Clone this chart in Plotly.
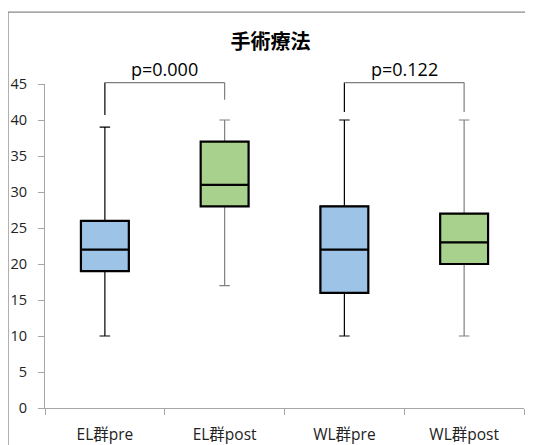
import plotly.graph_objects as go

# ---- data ----
categories = ["EL群pre", "EL群post", "WL群pre", "WL群post"]
q1 = [19, 28, 16, 20]
median = [22, 31, 22, 23]
q3 = [26, 37, 28, 27]
lower = [10, 17, 10, 10]
upper = [39, 40, 40, 40]
p_labels = ["p=0.000", "p=0.122"]
pairs = [(0, 1), (2, 3)]
y_ticks = [0, 5, 10, 15, 20, 25, 30, 35, 40, 45]
title_text = "手術療法"

pre_idx = [0, 2]
post_idx = [1, 3]
pre_fill = "#9DC3E6"
post_fill = "#A9D18E"

Y_MAX = 45
FONT = "Open Sans, Noto Sans CJK JP, sans-serif"

fig = go.Figure()


def pick(arr, idx):
    return [arr[i] for i in idx]


def add_boxes(idx, fill, whisker_color):
    xs = pick(categories, idx)
    # whiskers layer (thin)
    fig.add_trace(go.Box(
        x=xs, q1=pick(q1, idx), median=pick(median, idx), q3=pick(q3, idx),
        lowerfence=pick(lower, idx), upperfence=pick(upper, idx),
        width=0.4, whiskerwidth=0.22, fillcolor=fill,
        line=dict(color=whisker_color, width=1.2),
        boxpoints=False, showlegend=False, hoverinfo="skip"))
    # box layer (thick outline)
    fig.add_trace(go.Box(
        x=xs, q1=pick(q1, idx), median=pick(median, idx), q3=pick(q3, idx),
        lowerfence=pick(q1, idx), upperfence=pick(q3, idx),
        width=0.4, whiskerwidth=0, fillcolor=fill,
        line=dict(color="#000000", width=2.2),
        boxpoints=False, showlegend=False, hoverinfo="skip"))


add_boxes(pre_idx, pre_fill, "#000000")
add_boxes(post_idx, post_fill, "#808080")

# significance brackets (y expressed as fraction of the y range)
bracket_top = 45.2
leg_ends = [(40.7, 42.8), (41.1, 41.1)]
n_cat = len(categories)
for (a, b), (ea, eb), lab in zip(pairs, leg_ends, p_labels):
    yt = bracket_top / Y_MAX
    fig.add_shape(type="line", xref="x", yref="paper",
                  x0=categories[a], x1=categories[a], y0=ea / Y_MAX, y1=yt,
                  line=dict(color="#000000", width=1.2))
    fig.add_shape(type="line", xref="x", yref="paper",
                  x0=categories[a], x1=categories[b], y0=yt, y1=yt,
                  line=dict(color="#7f7f7f", width=1.2))
    fig.add_shape(type="line", xref="x", yref="paper",
                  x0=categories[b], x1=categories[b], y0=yt, y1=eb / Y_MAX,
                  line=dict(color="#7f7f7f", width=1.2))
    fig.add_annotation(x=((a + b) / 2 + 0.5) / n_cat, y=yt, xref="paper", yref="paper",
                       text=lab, showarrow=False, xanchor="center", yanchor="bottom", yshift=0,
                       font=dict(family=FONT, size=18, color="#000000"))

# outer chart frame
fig.add_shape(type="rect", xref="paper", yref="paper",
              x0=-0.0772, x1=1.05, y0=-0.3, y1=1.222,
              line=dict(color="#898989", width=1.3), fillcolor="rgba(0,0,0,0)",
              layer="below")

fig.update_layout(
    width=525, height=437,
    margin=dict(l=37, r=9, t=76, b=37, autoexpand=False),
    paper_bgcolor="white", plot_bgcolor="white",
    boxmode="overlay",
    title=dict(text="<b>" + title_text + "</b>", x=0.5, xanchor="center",
               y=1 - 34 / 437, yanchor="middle",
               font=dict(family="Noto Sans CJK JP, sans-serif", size=20, color="#000000")),
    font=dict(family=FONT, size=14, color="#333333"),
)

fig.update_xaxes(
    type="category", categoryorder="array", categoryarray=categories,
    range=[-0.5, 3.5], tickson="boundaries", ticks="outside", ticklen=6,
    tickcolor="#A6A6A6", showline=True, linecolor="#A6A6A6", linewidth=1,
    showgrid=False, zeroline=False, tickfont=dict(family=FONT, size=15.5, color="#222222"),
    ticklabelstandoff=12, automargin=False,
)
fig.update_yaxes(
    range=[0, Y_MAX], tickvals=y_ticks, ticks="outside", ticklen=6,
    tickcolor="#A6A6A6", showline=True, linecolor="#A6A6A6", linewidth=1,
    showgrid=False, zeroline=False, tickfont=dict(family=FONT, size=14.5, color="#222222"),
    ticklabelstandoff=8, automargin=False,
)

fig.write_html("out.html")
